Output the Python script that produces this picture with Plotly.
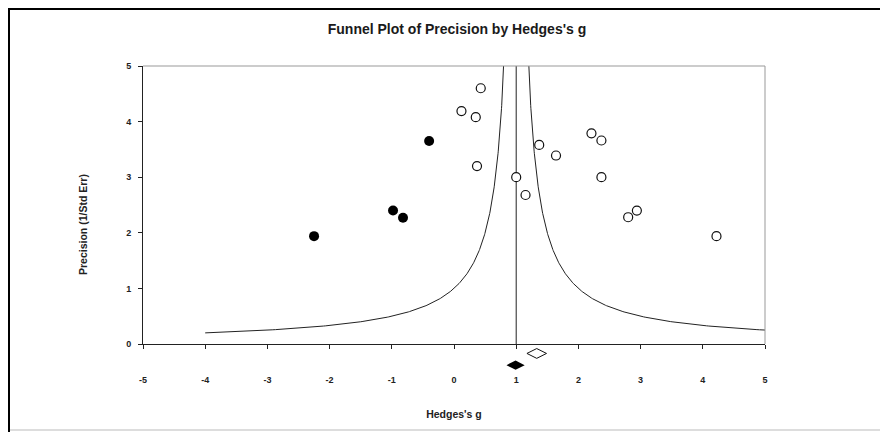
import numpy as np
import plotly.graph_objects as go

# ---- data ----
observed_g = [0.43, 0.12, 0.35, 0.37, 1.00, 1.15, 1.37, 1.64, 2.21, 2.37, 2.37, 2.80, 2.94, 4.22]
observed_precision = [4.60, 4.19, 4.08, 3.20, 3.00, 2.68, 3.58, 3.39, 3.79, 3.66, 3.00, 2.28, 2.40, 1.94]

imputed_g = [-2.25, -0.98, -0.82, -0.40]
imputed_precision = [1.94, 2.40, 2.27, 3.65]

observed_mean = 1.33      # open diamond
adjusted_mean = 0.99      # filled diamond
diamond_rows = [-0.17, -0.38]

funnel_center = 1.0
funnel_halfwidth = 1.0     # half width at precision 1
precision_min, precision_max = 0.2, 5.6

x_ticks = [-5, -4, -3, -2, -1, 0, 1, 2, 3, 4, 5]
y_ticks = [0, 1, 2, 3, 4, 5]

# ---- layout geometry (pixels, page has an 8px body margin) ----
OFF = 8
W, H = 888 - OFF, 432 - OFF
L, R, T, B = 143 - OFF, W - (765 - OFF), 66 - OFF, H - (372 - OFF)
plot_h = H - T - B
diamond_band = 28
split = diamond_band / plot_h


def px_x(p):
    return (p - OFF - L) / (W - L - R)


def px_y(p):
    return (H - B - (p - OFF)) / plot_h


FONT = "Arial, Liberation Sans, sans-serif"

prec = np.geomspace(precision_min, precision_max, 300)
left_x = funnel_center - funnel_halfwidth / prec
right_x = funnel_center + funnel_halfwidth / prec

fig = go.Figure()

fig.add_trace(go.Scatter(x=left_x, y=prec, mode="lines",
                         line=dict(color="#222", width=1), hoverinfo="skip", showlegend=False))
fig.add_trace(go.Scatter(x=right_x, y=prec, mode="lines",
                         line=dict(color="#222", width=1), hoverinfo="skip", showlegend=False))
fig.add_trace(go.Scatter(x=[funnel_center, funnel_center], y=[0, 5], mode="lines",
                         line=dict(color="#222", width=1), hoverinfo="skip", showlegend=False))

fig.add_trace(go.Scatter(x=observed_g, y=observed_precision, mode="markers",
                         marker=dict(symbol="circle", size=9, color="white",
                                     line=dict(color="#111", width=1.2)),
                         name="Observed", showlegend=False))
fig.add_trace(go.Scatter(x=imputed_g, y=imputed_precision, mode="markers",
                         marker=dict(symbol="circle", size=10, color="#000",
                                     line=dict(color="#000", width=0)),
                         name="Imputed", showlegend=False))

fig.add_trace(go.Scatter(x=[observed_mean], y=[diamond_rows[0]], mode="markers", yaxis="y2",
                         marker=dict(symbol="diamond-wide", size=14, color="white",
                                     line=dict(color="#111", width=1)),
                         showlegend=False))
fig.add_trace(go.Scatter(x=[adjusted_mean], y=[diamond_rows[1]], mode="markers", yaxis="y2",
                         marker=dict(symbol="diamond-wide", size=13, color="#000",
                                     line=dict(color="#000", width=0)),
                         showlegend=False))

units_per_px = 5.0 / (plot_h - diamond_band)

fig.update_layout(
    width=W, height=H,
    margin=dict(l=L, r=R, t=T, b=B),
    paper_bgcolor="white", plot_bgcolor="white",
    title=dict(text="Funnel Plot of Precision by Hedges's g",
               font=dict(family=FONT, size=14, color="#1a1a1a", weight="bold"),
               x=px_x(457), xref="paper", xanchor="center",
               y=1 - (29 - OFF) / H, yref="container", yanchor="middle"),
    xaxis=dict(range=[-5, 5], tickvals=x_ticks, ticktext=[str(v) for v in x_ticks],
               ticks="outside", ticklen=4, tickcolor="#222", showline=True,
               linecolor="#222", linewidth=1, showgrid=False, zeroline=False,
               anchor="y", ticklabelstandoff=23,
               tickfont=dict(family=FONT, size=9, color="#222", weight="bold"),
               title=dict(text="Hedges's g", standoff=26,
                          font=dict(family=FONT, size=10.5, color="#222", weight="bold"))),
    yaxis=dict(domain=[split, 1], range=[0, 5], tickvals=y_ticks,
               ticks="outside", ticklen=4, tickcolor="#222", showline=True,
               linecolor="#222", linewidth=1, showgrid=False, zeroline=False,
               anchor="x", ticklabelstandoff=5,
               tickfont=dict(family=FONT, size=9, color="#222", weight="bold")),
    yaxis2=dict(domain=[0, split], range=[-diamond_band * units_per_px, 0],
                visible=False, anchor="x", showgrid=False, zeroline=False),
    annotations=[dict(text="Precision (1/Std Err)", textangle=-90,
                      x=px_x(83), y=px_y(225), xref="paper", yref="paper",
                      xanchor="center", yanchor="middle", showarrow=False,
                      font=dict(family=FONT, size=10.5, color="#222", weight="bold"))],
    shapes=[
        # plot frame (top and right, gray)
        dict(type="line", xref="x domain", yref="y domain", x0=0, x1=1, y0=1, y1=1,
             line=dict(color="#999", width=1)),
        dict(type="line", xref="x domain", yref="y domain", x0=1, x1=1, y0=0, y1=1,
             line=dict(color="#999", width=1)),
        # outer image frame
        dict(type="line", xref="paper", yref="paper", x0=px_x(8.5), x1=px_x(900),
             y0=px_y(8.5), y1=px_y(8.5), line=dict(color="#000", width=3)),
        dict(type="line", xref="paper", yref="paper", x0=px_x(8.5), x1=px_x(8.5),
             y0=px_y(440), y1=px_y(7), line=dict(color="#000", width=3)),
        dict(type="line", xref="paper", yref="paper", x0=px_x(10), x1=px_x(900),
             y0=px_y(430), y1=px_y(430), line=dict(color="#ddd", width=2)),
    ],
)

fig.write_html("out.html")
